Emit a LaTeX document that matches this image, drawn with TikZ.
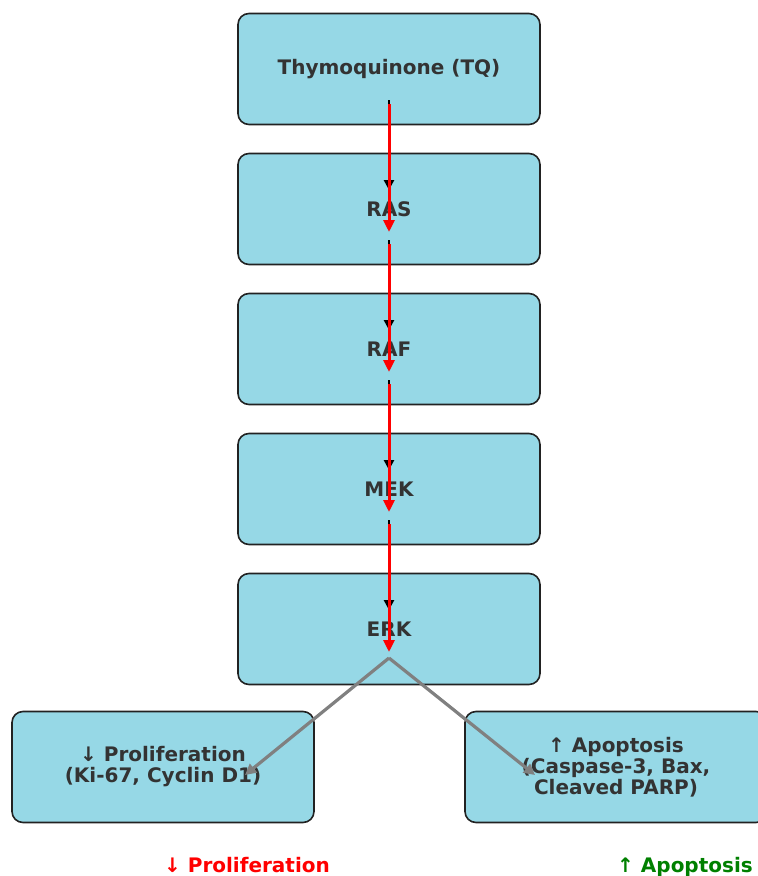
\documentclass[tikz,border=0pt]{standalone}
\usepackage{fontspec}
\setmainfont{DejaVu Sans}
\usetikzlibrary{arrows.meta,calc,positioning}
\definecolor{boxblue}{RGB}{150,216,230}
\definecolor{boxedge}{RGB}{34,34,34}
\definecolor{txtgray}{RGB}{51,51,51}
\definecolor{upgreen}{RGB}{0,128,0}
\tikzstyle{pathway}=[draw=boxedge, line width=1.6pt, rounded corners=11pt, fill=boxblue,
  minimum width=302pt, minimum height=111pt, align=center, text=txtgray,
  font=\fontsize{20}{21}\selectfont\bfseries]
\tikzstyle{outcome}=[anchor=base, font=\fontsize{20}{22}\selectfont\bfseries]
\tikzset{%
    blackstep/.style={black, line width=2.5pt, -{Triangle[length=10pt,width=10pt]}},
    redstep/.style={red, line width=3pt, -{Triangle[length=12pt,width=11pt]}},
    grayfork/.style={gray, line width=3.2pt, -{Triangle[length=11pt,width=11pt]}},
  }
\begin{document}
\begin{tikzpicture}[x=1pt, y=-1pt, node distance=140pt]
    \useasboundingbox (0,0) rectangle (758,876);
    \node (tq) [pathway] at (389,69) {Thymoquinone (TQ)};
    \node (ras) [pathway, below of=tq] {RAS};
    \node (raf) [pathway, below of=ras] {RAF};
    \node (mek) [pathway, below of=raf] {MEK};
    \node (erk) [pathway, below of=mek] {ERK};
    %
    \node (prolif) [pathway] at (163,767) {↓ Proliferation\\(Ki-67, Cyclin D1)};
    \node (apop) [pathway] at (616,767) {↑ Apoptosis\\(Caspase-3, Bax,\\Cleaved PARP)};
    %
    \foreach \from/\to in {tq/ras, ras/raf, raf/mek, mek/erk} {
      \draw [blackstep] ($(\from.center)+(0,31)$) -- ($(\to.center)+(0,-19)$);
      \draw [redstep] ($(\from.center)+(0,35)$) -- ($(\to.center)+(0,23)$);
    }
    %
    \coordinate (fork) at ($(erk.center)+(0,29)$);
    \draw [grayfork] (fork) -- ($(prolif.center)+(82,8)$);
    \draw [grayfork] (fork) -- ($(apop.center)+(-81,8)$);
    %
    \node (plabel) [outcome, text=red] at (247,872) {↓ Proliferation};
    \node (alabel) [outcome, text=upgreen] at (685,872) {↑ Apoptosis};
  \end{tikzpicture}
\end{document}
